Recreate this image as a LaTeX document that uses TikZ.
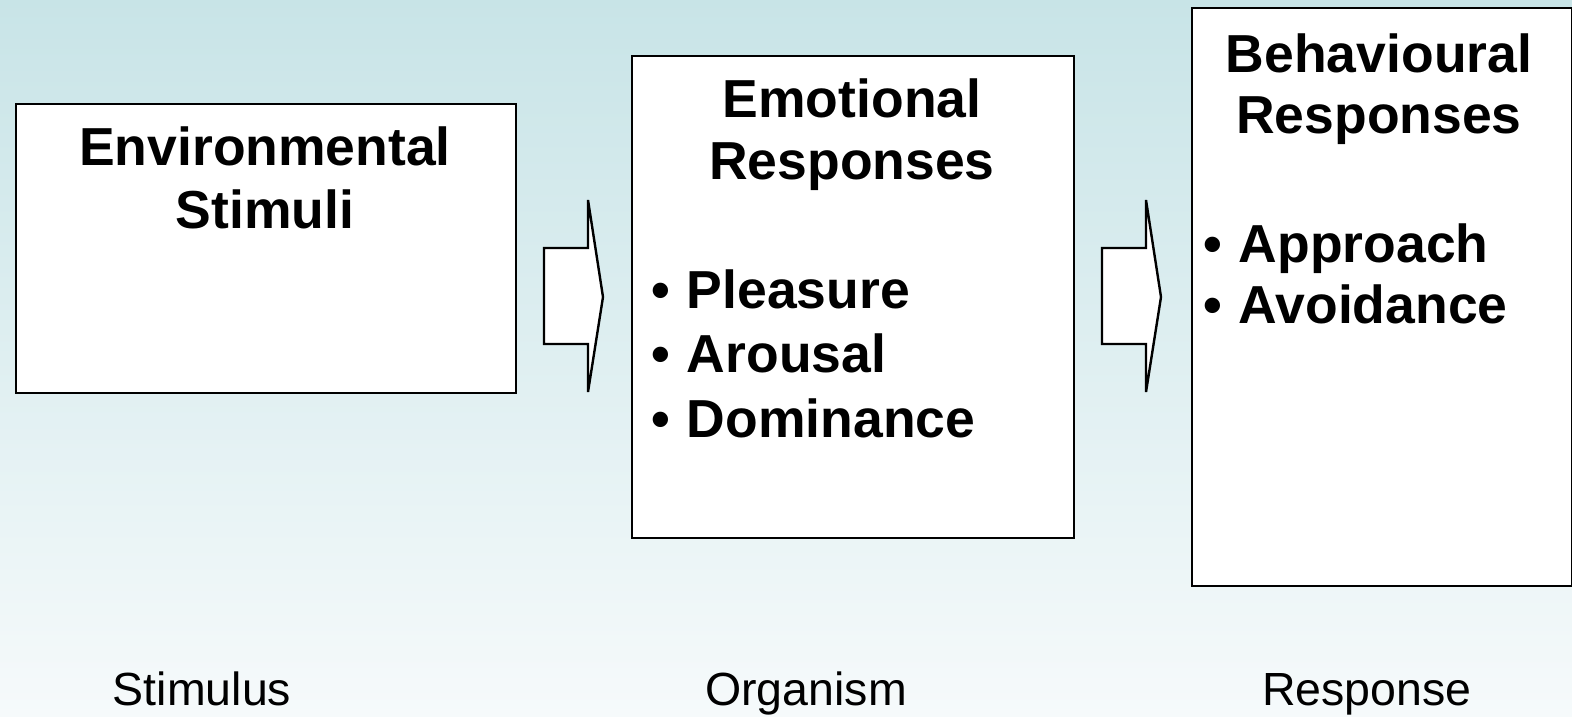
\documentclass[tikz,border=0pt]{standalone}
\usepackage{fontspec}
\setmainfont{Liberation Sans}
\definecolor{bgtop}{RGB}{200,228,231}
\definecolor{bgbot}{RGB}{246,250,251}
\begin{document}
\begin{tikzpicture}[x=1pt,y=-1pt,
  panel/.style={draw=black,line width=2.4pt,fill=white,inner sep=0pt,anchor=north west},
  headline/.style={font=\bfseries\fontsize{53.5}{64}\selectfont,inner sep=0pt,anchor=base},
  item/.style={font=\bfseries\fontsize{53.5}{64}\selectfont,inner sep=0pt,anchor=base west},
  stage/.style={font=\fontsize{46.5}{56}\selectfont,inner sep=0pt,anchor=base},
  blockarrow/.style={draw=black,line width=2.4pt,fill=white,line join=miter}]
\useasboundingbox (0,0) rectangle (1572,716);
% soft vertical background gradient
\shade[top color=bgtop,bottom color=bgbot] (0,0) rectangle (1572,716);

% the three stage boxes
\node[panel,minimum width=500pt,minimum height=289pt] (stim) at (15,103) {};
\node[panel,minimum width=442pt,minimum height=482pt] (org) at (631,55) {};
\node[panel,minimum width=380pt,minimum height=578pt] (resp) at (1191,7) {};

% block arrows between the boxes
\foreach \ax in {544,1102}{
  \draw[blockarrow] (\ax,248) -- ++(44,0) -- ++(0,-48) -- ++(15,97)
    -- ++(-15,95) -- ++(0,-48) -- ++(-44,0) -- cycle;
}

% box contents
\node[headline] (stimA) at (265,165) {Environmental};
\node[headline] (stimB) at (265,228) {Stimuli};

\node[headline] (orgA) at (852,117) {Emotional};
\node[headline] (orgB) at (852,179) {Responses};
\node[item] (orgC) at (651,308) {•\hspace{17pt}Pleasure};
\node[item] (orgD) at (651,372) {•\hspace{17pt}Arousal};
\node[item] (orgE) at (651,437) {•\hspace{17pt}Dominance};

\node[headline] (respA) at (1379,72) {Behavioural};
\node[headline] (respB) at (1379,133) {Responses};
\node[item] (respC) at (1203,262) {•\hspace{17pt}Approach};
\node[item] (respD) at (1203,323) {•\hspace{17pt}Avoidance};

% stage captions
\node[stage] (capS) at (202,705) {Stimulus};
\node[stage] (capO) at (806,705) {Organism};
\node[stage] (capR) at (1367,705) {Response};
\end{tikzpicture}
\end{document}
